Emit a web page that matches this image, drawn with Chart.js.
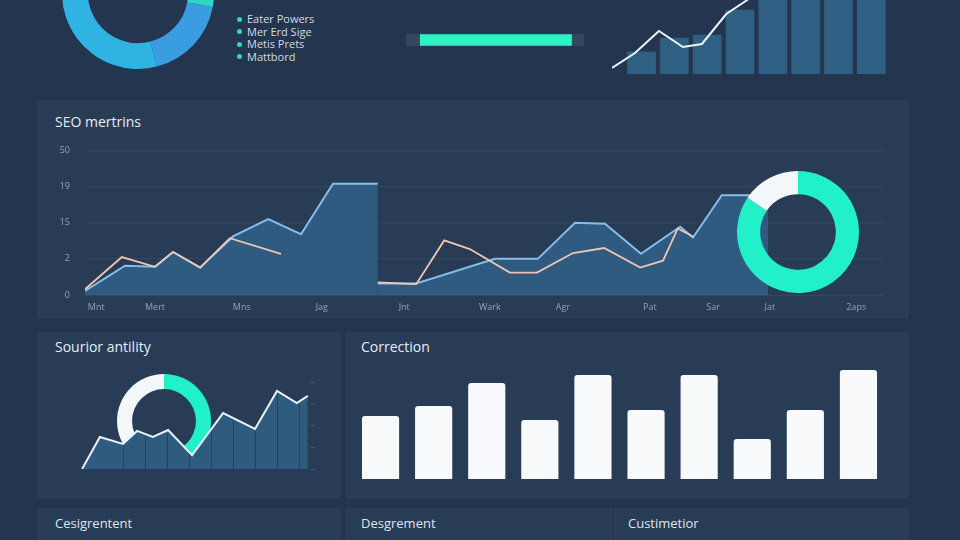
<!DOCTYPE html>
<html>
<head>
<meta charset="utf-8">
<title>Dashboard</title>
<script src="https://cdn.jsdelivr.net/npm/chart.js@4.4.1/dist/chart.umd.min.js"></script>
<style>
  body { margin: 0; width: 960px; height: 540px; overflow: hidden; position: relative;
         background: #24364f; font-family: "Open Sans", "Noto Sans", sans-serif; }
  .panel { position: absolute; background: #293c56; border: 1px solid rgba(255,255,255,0.035); box-sizing: border-box; }
  .titre { position: absolute; color: #e6edf5; font-size: 14px; line-height: 16px; white-space: nowrap; }
  .petit { font-size: 13px; color: #dde6f0; }
  .box { position: absolute; }
  #legende { position: absolute; left: 237px; top: 13px; margin: 0; padding: 0; list-style: none;
             color: #cfd9e4; font-size: 11px; line-height: 12.5px; }
  #legende span { display: inline-block; width: 5px; height: 5px; border-radius: 50%; background: #35d4c0;
                  margin-right: 5px; vertical-align: middle; position: relative; top: -1px; }
</style>
</head>
<body>

<div class="panel" style="left:38px;top:101px;width:870px;height:217px"></div>
<div class="panel" style="left:38px;top:332px;width:302px;height:166px"></div>
<div class="panel" style="left:346px;top:332px;width:562px;height:166px"></div>
<div class="panel" style="left:38px;top:508px;width:302px;height:40px"></div>
<div class="panel" style="left:346px;top:508px;width:266px;height:40px"></div>
<div class="panel" style="left:614px;top:508px;width:294px;height:40px"></div>

<div class="titre" style="left:55px;top:114px">SEO mertrins</div>
<div class="titre" style="left:55px;top:339px">Sourior antility</div>
<div class="titre" style="left:361px;top:339px">Correction</div>
<div class="titre petit" style="left:55px;top:515px">Cesigrentent</div>
<div class="titre petit" style="left:361px;top:515px">Desgrement</div>
<div class="titre petit" style="left:628px;top:515px">Custimetior</div>

<ul id="legende"></ul>

<script>
// donut du haut + legende
const topDonutLabels = ["Eater Powers", "Mer Erd Sige", "Metis Prets", "Mattbord"];
const topDonutValues = [28, 18, 38, 16];

// barre de progression
const progressTrack = [0, 100];
const progressFill = [8, 93];

// petit graphique en haut a droite
const topBarX = [0.9, 1.9, 2.9, 3.9, 4.9, 5.9, 6.9, 7.9];
const topBarValues = [22, 36, 39, 64, 92, 100, 104, 110];
const topLineX = [0, 0.7, 1.43, 2.16, 2.74, 3.48, 4.12, 4.9];
const topLineValues = [6, 21, 43, 27, 30, 60, 74, 98];

// SEO
const seoTickPos = [1.4, 8.75, 19.6, 29.6, 39.9, 50.6, 59.75, 70.6, 78.5, 85.6, 96.4];
const seoTickLabels = ["Mnt", "Mert", "Mns", "Jag", "Jnt", "Wark", "Agr", "Pat", "Sar", "Jat", "2aps"];
const seoYLabels = ["0", "2", "15", "19", "50"];
const seoBlueX = [0, 5, 8.75, 11, 14.4, 18.5, 22.9, 27, 31, 36.6, 36.6, 41.4, 51.25, 56.6, 61.25, 65, 69.5, 74.4, 76, 79.6, 85.4];
const seoBlueY = [0.11, 0.81, 0.78, 1.19, 0.76, 1.62, 2.1, 1.68, 3.08, 3.08, 0.32, 0.32, 1.0, 1.0, 2.0, 1.97, 1.14, 1.89, 1.59, 2.76, 2.76];
const seoPeachX = [0, 4.6, 8.75, 11, 14.4, 18.1, 24.5, 30, 36.6, 41.4, 44.9, 48.1, 53.1, 56.5, 61, 64.9, 69.4, 72.25, 74.1, 76];
const seoPeachY = [0.16, 1.05, 0.78, 1.19, 0.76, 1.57, 1.14, null, 0.35, 0.3, 1.51, 1.27, 0.62, 0.62, 1.16, 1.3, 0.76, 0.95, 1.84, 1.62];
const seoDonutValues = [84.5, 15.5];

// Sourior antility
const souX = [0.14, 0.95, 2.0, 2.64, 3.36, 4.05, 5.14, 6.55, 8.0, 9.0, 9.9, 10.4];
const souY = [0, 1.47, 1.15, 1.75, 1.47, 1.79, 0.64, 2.57, 1.84, 3.59, 3.03, 3.36];
const souSeparators = [2, 3, 4, 5, 6, 7, 8, 9, 10];
const souDonutValues = [50, 50];

// Correction
const corrLabels = ["1", "2", "3", "4", "5", "6", "7", "8", "9", "10"];
const corrValues = [63, 73, 96, 59, 104, 69, 104, 40, 69, 109];

Chart.defaults.animation = false;
Chart.defaults.responsive = true;
Chart.defaults.maintainAspectRatio = false;
Chart.defaults.plugins.legend.display = false;
Chart.defaults.plugins.tooltip.enabled = false;
Chart.defaults.font.family = '"Open Sans", "Noto Sans", sans-serif';

const TEAL = '#22f0c8';
const WHITE = '#f4f7fa';

function boite(left, top, w, h) {
  const d = document.createElement('div');
  d.className = 'box';
  d.style.cssText = 'left:' + left + 'px;top:' + top + 'px;width:' + w + 'px;height:' + h + 'px';
  const c = document.createElement('canvas');
  d.appendChild(c);
  document.body.appendChild(d);
  return c.getContext('2d');
}

function points(xs, ys) {
  return xs.map((x, i) => ({ x: x, y: ys[i] }));
}

// legende
const ul = document.getElementById('legende');
topDonutLabels.forEach(l => {
  const li = document.createElement('li');
  li.innerHTML = '<span></span>' + l;
  ul.appendChild(li);
});

// donut du haut a gauche
new Chart(boite(62, -83, 152, 152), {
  type: 'doughnut',
  data: {
    labels: topDonutLabels,
    datasets: [{ data: topDonutValues, backgroundColor: ['#2dd6c6', '#3a9de2', '#2fb3e3', '#2dd6c6'], borderWidth: 0 }]
  },
  options: { cutout: '66%' }
});

// progression
new Chart(boite(406, 28, 178, 24), {
  type: 'bar',
  data: {
    labels: ['p'],
    datasets: [
      { data: [progressFill], backgroundColor: '#2ef2c6', barThickness: 11, borderRadius: 1, grouped: false },
      { data: [progressTrack], backgroundColor: '#34475f', barThickness: 12, borderRadius: 2, grouped: false }
    ]
  },
  options: {
    indexAxis: 'y',
    scales: { x: { min: 0, max: 100, display: false }, y: { display: false } }
  }
});

// barres + ligne en haut a droite
new Chart(boite(612, -56, 279, 130), {
  type: 'bar',
  data: {
    datasets: [
      { type: 'line', data: points(topLineX, topLineValues), borderColor: '#eef4fa', borderWidth: 2, pointRadius: 0, order: 0 },
      { type: 'bar', data: points(topBarX, topBarValues), backgroundColor: '#2f5f83', barThickness: 28, order: 1 }
    ]
  },
  options: {
    scales: {
      x: { type: 'linear', min: 0, max: 8.5, offset: false, display: false },
      y: { min: 0, max: 130, display: false }
    }
  }
});

// SEO
new Chart(boite(40, 130, 850, 193), {
  type: 'line',
  data: {
    datasets: [
      { data: points(seoPeachX, seoPeachY), borderColor: '#efc6b5', borderWidth: 1.8, pointRadius: 0, fill: false, spanGaps: false, order: 0 },
      { data: points(seoBlueX, seoBlueY), borderColor: '#86bde9', borderWidth: 2, pointRadius: 0, fill: 'origin',
        backgroundColor: '#2e5b7f', order: 1,
        segment: { borderColor: c => c.p0.parsed.x === c.p1.parsed.x ? 'rgba(0,0,0,0)' : undefined } }
    ]
  },
  options: {
    layout: { padding: { top: 17, right: 5 } },
    scales: {
      x: {
        type: 'linear', min: 0, max: 100,
        afterFit: s => { s.height = 28; },
        afterBuildTicks: s => { s.ticks = seoTickPos.map(v => ({ value: v })); },
        ticks: { callback: (v, i) => seoTickLabels[i], color: '#93a3b7', font: { size: 9 }, maxRotation: 0, autoSkip: false, padding: 7 },
        grid: { display: false, drawTicks: false }, border: { display: false }
      },
      y: {
        min: 0, max: 4,
        afterFit: s => { s.width = 45; },
        ticks: { stepSize: 1, callback: v => seoYLabels[v], color: '#93a3b7', font: { size: 9 }, padding: 15 },
        grid: { color: 'rgba(255,255,255,0.06)', drawTicks: false }, border: { display: false }
      }
    }
  }
});

// donut sur le SEO
new Chart(boite(737, 171, 122, 122), {
  type: 'doughnut',
  data: { labels: ['a', 'b'], datasets: [{ data: seoDonutValues, backgroundColor: [TEAL, WHITE], borderWidth: 0 }] },
  options: { cutout: '62%' }
});

// Sourior antility : le donut passe derriere la courbe
new Chart(boite(117, 374, 94, 94), {
  type: 'doughnut',
  data: { labels: ['a', 'b'], datasets: [{ data: souDonutValues, backgroundColor: [TEAL, WHITE], borderWidth: 0 }] },
  options: { cutout: '68%' }
});

function souAt(x) {
  for (let i = 1; i < souX.length; i++) {
    if (x <= souX[i]) {
      const t = (x - souX[i - 1]) / (souX[i] - souX[i - 1]);
      return souY[i - 1] + t * (souY[i] - souY[i - 1]);
    }
  }
  return souY[souY.length - 1];
}

new Chart(boite(79, 380, 237, 91), {
  type: 'line',
  data: {
    datasets: [{ data: points(souX, souY), borderColor: '#e9f1f8', borderWidth: 2, pointRadius: 0, fill: 'origin', backgroundColor: '#2e5b7e' }]
  },
  options: {
    layout: { padding: { top: 2, bottom: 2 } },
    scales: {
      x: {
        type: 'linear', min: 0, max: 10.5,
        afterFit: s => { s.height = 0; },
        afterBuildTicks: s => { s.ticks = souSeparators.map(v => ({ value: v })); },
        ticks: { display: false },
        border: { display: false },
        grid: {
          z: 1, drawTicks: false, lineWidth: 1,
          // separateurs visibles seulement sous la courbe
          color: c => {
            const ch = c.chart, a = ch.chartArea;
            if (!a || !c.tick || !ch.scales.y) return 'rgba(0,0,0,0)';
            const py = ch.scales.y.getPixelForValue(souAt(c.tick.value));
            const f = Math.min(1, Math.max(0, (py + 2 - a.top) / (a.bottom - a.top)));
            const g = ch.ctx.createLinearGradient(0, a.top, 0, a.bottom);
            g.addColorStop(0, 'rgba(0,0,0,0)');
            g.addColorStop(f, 'rgba(0,0,0,0)');
            g.addColorStop(f, '#25405b');
            g.addColorStop(1, '#25405b');
            return g;
          }
        }
      },
      y: {
        position: 'right', min: 0, max: 4,
        afterFit: s => { s.width = 6; },
        ticks: { display: false, stepSize: 1 },
        grid: { drawOnChartArea: false, tickLength: 5, color: 'rgba(255,255,255,0.14)' },
        border: { display: false }
      }
    }
  }
});

// Correction
new Chart(boite(354, 359, 531, 120), {
  type: 'bar',
  data: {
    labels: corrLabels,
    datasets: [{ data: corrValues, backgroundColor: '#f7f9fb', borderRadius: 3, barPercentage: 0.7, categoryPercentage: 1 }]
  },
  options: {
    scales: { x: { display: false }, y: { min: 0, max: 120, display: false } }
  }
});
</script>
</body>
</html>
